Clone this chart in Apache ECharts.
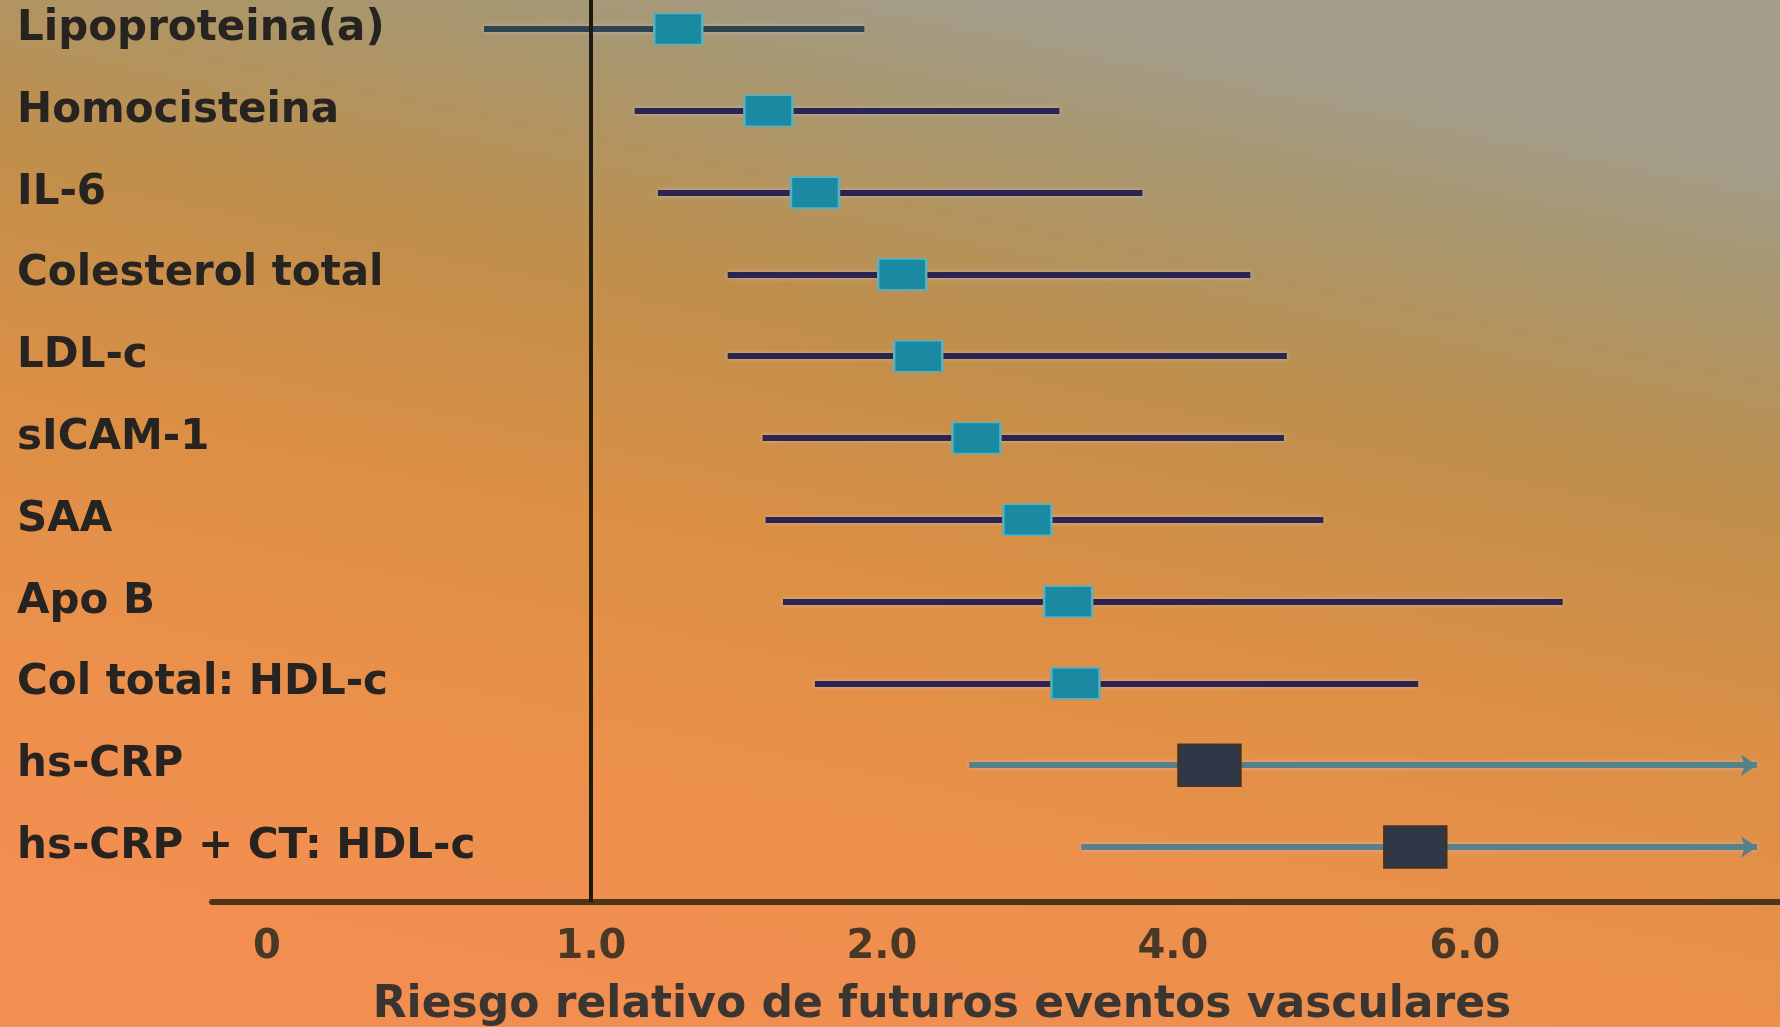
<!DOCTYPE html>
<html>
<head>
<meta charset="utf-8">
<script src="https://cdn.jsdelivr.net/npm/echarts@6/dist/echarts.min.js"></script>
<style>
  html, body { margin: 0; padding: 0; }
  #chart { width: 1780px; height: 1027px; }
</style>
</head>
<body>
<div id="chart"></div>
<script>
// ---- Data ----
const categories = ['Lipoproteina(a)', 'Homocisteina', 'IL-6', 'Colesterol total', 'LDL-c', 'sICAM-1', 'SAA', 'Apo B', 'Col total: HDL-c', 'hs-CRP', 'hs-CRP + CT: HDL-c'];
const riskLow   = [0.67, 1.15, 1.23, 1.47, 1.47, 1.59, 1.60, 1.66, 1.77, 2.60, 3.37];
const riskPoint = [1.30, 1.61, 1.77, 2.14, 2.25, 2.65, 3.00, 3.28, 3.33, 4.25, 5.66];
const riskHigh  = [1.94, 3.22, 3.79, 4.53, 4.78, 4.76, 5.03, 6.67, 5.68, 8.00, 8.00];
const arrowRows = [false, false, false, false, false, false, false, false, false, true, true];
const tickValues = [0, 1, 2, 4, 6];
const tickLabels = ['0', '1.0', '2.0', '4.0', '6.0'];
const axisTitle = 'Riesgo relativo de futuros eventos vasculares';
const referenceValue = 1;

// ---- Non-uniform axis of the original (0, 1, 2, 4, 6 drawn almost equally spaced) ----
const scaleKnots = [0, 1.11, 2.106, 3.103, 4.103];
function toAxis(v) {
  for (let i = 0; i < tickValues.length - 1; i++) {
    if (v <= tickValues[i + 1] || i === tickValues.length - 2) {
      const t = (v - tickValues[i]) / (tickValues[i + 1] - tickValues[i]);
      return scaleKnots[i] + t * (scaleKnots[i + 1] - scaleKnots[i]);
    }
  }
}
function labelFor(pos) {
  let best = 0, d = Infinity;
  scaleKnots.forEach((k, i) => { if (Math.abs(k - pos) < d) { d = Math.abs(k - pos); best = i; } });
  return tickLabels[best];
}

const lineColors = categories.map((c, i) => i === 0 ? '#2e4250' : (arrowRows[i] ? '#56808a' : '#2b2352'));
const boxColors = categories.map((c, i) => arrowRows[i] ? '#2f3846' : '#1a8aa2');

const ciData = categories.map((c, i) => ({
  coords: [[toAxis(riskLow[i]), i], [toAxis(riskHigh[i]), i]],
  symbol: arrowRows[i] ? ['none', 'arrow'] : ['none', 'none'],
  symbolSize: 16,
  lineStyle: { color: lineColors[i] }
}));
const pointData = categories.map((c, i) => ({
  value: [toAxis(riskPoint[i]), i],
  symbolSize: arrowRows[i] ? [62, 42] : [48, 31],
  itemStyle: {
    color: boxColors[i],
    opacity: 1,
    borderColor: arrowRows[i] ? '#4a3220' : '#5ab0bc',
    borderWidth: 2
  }
}));

const chart = echarts.init(document.getElementById('chart'));
chart.setOption({
  backgroundColor: {
    type: 'linear', x: 0.56, y: 0, x2: 0.44, y2: 1,
    colorStops: [
      { offset: 0, color: '#a39d8b' },
      { offset: 0.12, color: '#a8976f' },
      { offset: 0.32, color: '#bf8f4c' },
      { offset: 0.55, color: '#db8f45' },
      { offset: 0.8, color: '#ec904c' },
      { offset: 1, color: '#f28e50' }
    ]
  },
  animation: false,
  grid: { left: 212, right: 0, top: 0, bottom: 125, containLabel: false, outerBoundsMode: 'none' },
  xAxis: {
    type: 'value',
    min: -0.188,
    max: 5.182,
    axisLine: { show: true, onZero: false, lineStyle: { color: '#4e3418', width: 6 } },
    axisTick: { show: false },
    splitLine: { show: false },
    axisLabel: {
      customValues: scaleKnots,
      formatter: v => labelFor(v),
      margin: 26,
      fontFamily: 'DejaVu Sans',
      fontWeight: 'bold',
      fontSize: 40,
      color: '#4a3826'
    },
    name: axisTitle,
    nameLocation: 'middle',
    nameGap: 82,
    nameTextStyle: {
      fontFamily: 'DejaVu Sans',
      fontWeight: 'bold',
      fontSize: 44,
      color: '#3a3530',
      padding: [0, 108, 0, 0]
    }
  },
  yAxis: {
    type: 'value',
    inverse: true,
    min: -0.3545,
    max: 10.672,
    axisLine: { show: false },
    axisTick: { show: false },
    splitLine: { show: false },
    axisLabel: {
      customValues: categories.map((c, i) => i),
      formatter: v => categories[Math.round(v)],
      align: 'left',
      margin: 195,
      padding: [8, 0, 0, 0],
      fontFamily: 'DejaVu Sans',
      fontWeight: 'bold',
      fontSize: 42,
      color: '#262320'
    }
  },
  series: [
    {
      type: 'lines',
      coordinateSystem: 'cartesian2d',
      polyline: false,
      z: 2,
      lineStyle: { width: 6, opacity: 1, shadowColor: 'rgba(215,215,225,0.5)', shadowBlur: 5 },
      data: ciData,
      markLine: {
        silent: true,
        symbol: ['none', 'none'],
        label: { show: false },
        lineStyle: { color: '#1e1a12', width: 4, type: 'solid' },
        data: [{ xAxis: toAxis(referenceValue) }]
      }
    },
    {
      type: 'scatter',
      symbol: 'rect',
      z: 3,
      data: pointData
    }
  ]
});
</script>
</body>
</html>
